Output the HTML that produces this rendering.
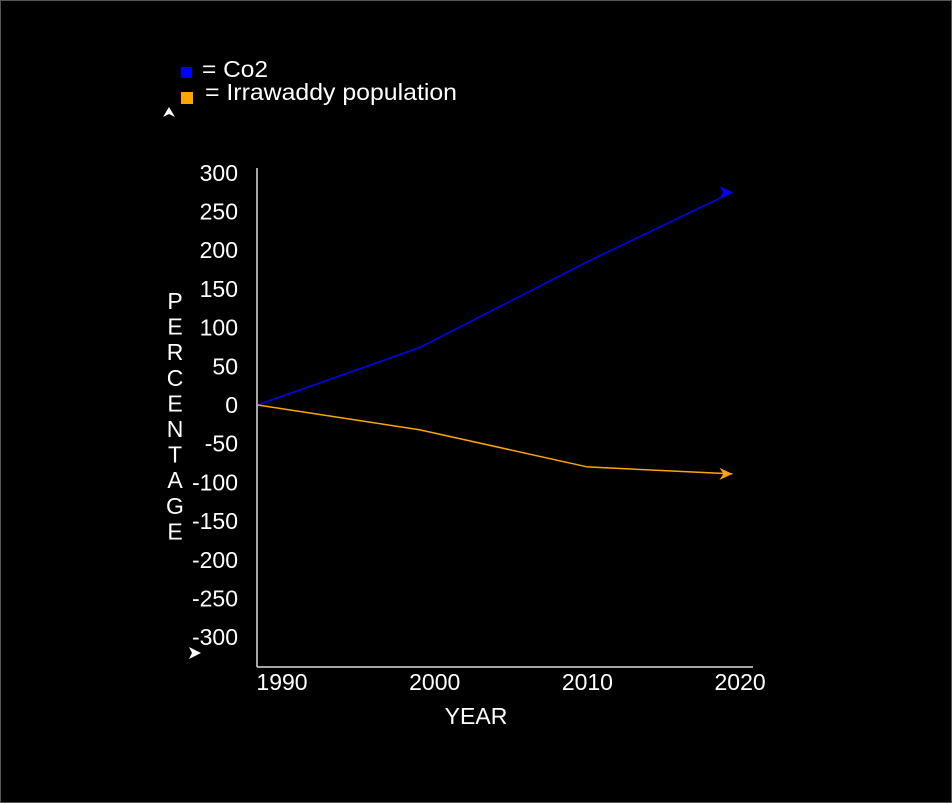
<!DOCTYPE html>
<html><head><meta charset="utf-8"><style>
html,body{margin:0;padding:0;background:#000;}
svg{display:block;}
text{font-family:"Liberation Sans",Arial,sans-serif;fill:#fff;}
</style></head><body>
<svg id="chart" width="952" height="803">
<rect x="0.5" y="0.5" width="951" height="802" fill="#000" stroke="#555"/>
<g id="g"></g>
</svg>
<script>
const years = [1988.4, 1999, 2010, 2019.5];
const co2 = [0, 74, 185, 275];
const irrawaddy = [0, -32, -80, -89];
const yTicks = [300,250,200,150,100,50,0,-50,-100,-150,-200,-250,-300];
const xTicks = [1990,2000,2010,2020];
const NS='http://www.w3.org/2000/svg';
const g=document.getElementById('g');
function X(v){return 282+(v-1990)*15.27;}
function Y(v){return 405-v*0.774;}
function el(t,a,p){const e=document.createElementNS(NS,t);for(const k in a)e.setAttribute(k,a[k]);(p||g).appendChild(e);return e;}
let a=el('line',{x1:257,y1:168,x2:257,y2:667,stroke:'#ddd','stroke-width':1.5});


a=el('line',{x1:257,y1:667,x2:753,y2:667,stroke:'#ddd','stroke-width':1.5});


yTicks.forEach(v=>{const t=el('text',{x:238,y:Y(v)+8,'font-size':23,'text-anchor':'end'});t.textContent=v;

});
xTicks.forEach(v=>{const t=el('text',{x:X(v),y:690,'font-size':23,'text-anchor':'middle'});t.textContent=v;

});
let t=el('text',{x:476,y:724,'font-size':23,'text-anchor':'middle'});t.textContent='YEAR';


'PERCENTAGE'.split('').forEach((c,i)=>{const s=el('text',{x:175,y:309+i*25.6,'font-size':23,'text-anchor':'middle'});s.textContent=c;

});
function series(vals,color,name){
  const pts=years.map((y,i)=>X(y)+','+Y(vals[i])).join(' ');
  const p=el('polyline',{points:pts,fill:'none',stroke:color,'stroke-width':1.5});
  
  
  const ex=X(years[years.length-1]),ey=Y(vals[vals.length-1]);
  const h=el('polygon',{points:`${ex},${ey} ${ex-13},${ey-6} ${ex-9},${ey} ${ex-13},${ey+6}`,fill:color});
  
  
}
series(co2,'#0000ff','co2');
series(irrawaddy,'#ffa500','irrawaddy');
let r=el('rect',{x:181,y:67,width:11,height:11,fill:'#0000ff'});


t=el('text',{x:202,y:77,'font-size':23,textLength:66,lengthAdjust:'spacingAndGlyphs'});t.textContent='= Co2';


r=el('rect',{x:181,y:92,width:12,height:12,fill:'#ffa500'});


t=el('text',{x:205,y:100,'font-size':23,textLength:252,lengthAdjust:'spacingAndGlyphs'});t.textContent='= Irrawaddy population';


r=el('polygon',{points:'169,107 163,117 169,114 175,117',fill:'#fff'});


r=el('polygon',{points:'201,653 189,647 192,653 189,659',fill:'#fff'});


</script>
</body></html>
